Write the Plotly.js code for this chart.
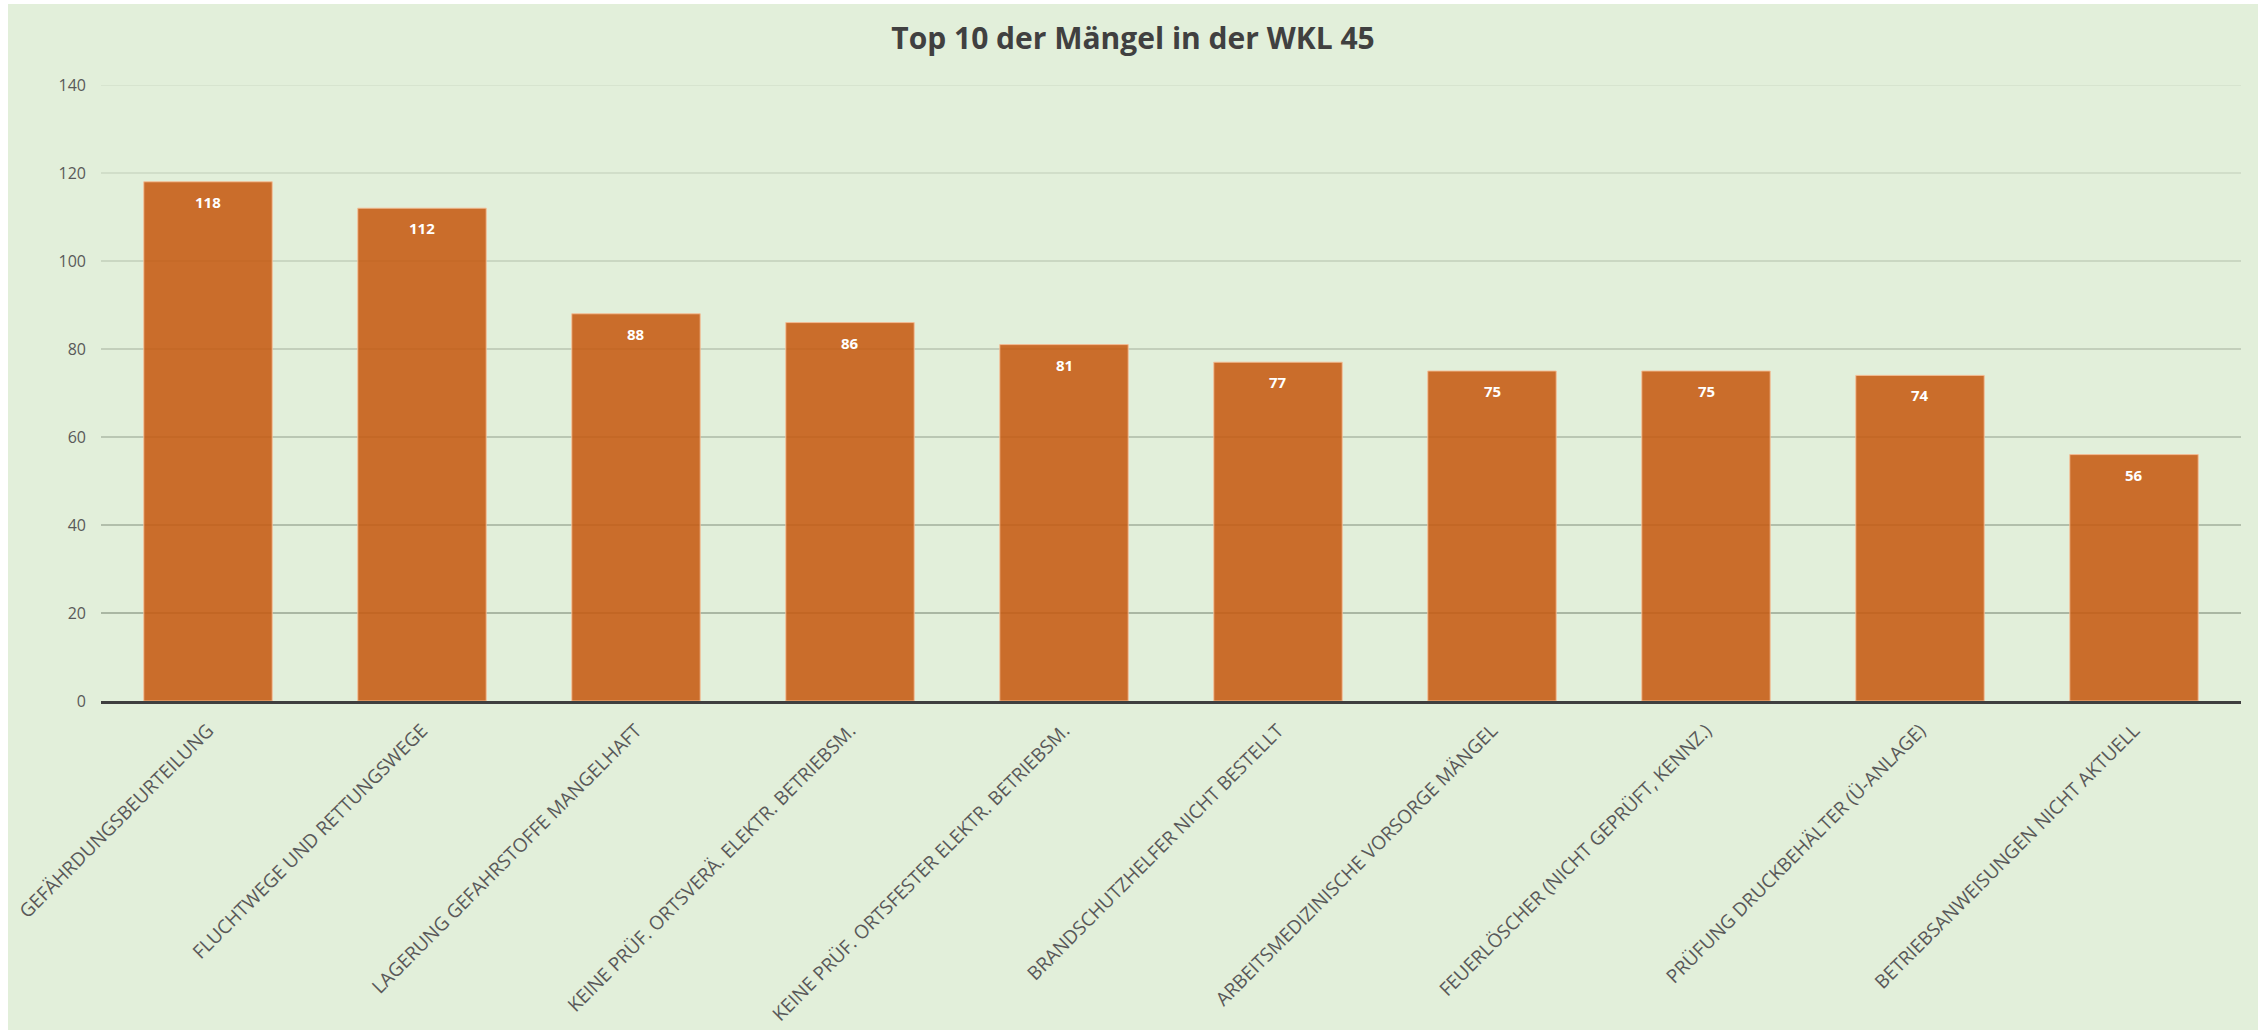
<!DOCTYPE html>
<html>
<head>
<meta charset="utf-8">
<script src="https://cdn.plot.ly/plotly-3.0.1.min.js"></script>
<style>
  html, body { margin: 0; padding: 0; background: #ffffff; width: 2265px; height: 1030px; overflow: hidden; }
  #chart { position: absolute; left: 8px; top: 4px; width: 2250px; height: 1026px; }
</style>
</head>
<body>
<div id="chart"></div>
<script>
// ---- data ----
const categories = [
  "GEFÄHRDUNGSBEURTEILUNG",
  "FLUCHTWEGE UND RETTUNGSWEGE",
  "LAGERUNG GEFAHRSTOFFE MANGELHAFT",
  "KEINE PRÜF. ORTSVERÄ. ELEKTR. BETRIEBSM.",
  "KEINE PRÜF. ORTSFESTER ELEKTR. BETRIEBSM.",
  "BRANDSCHUTZHELFER NICHT BESTELLT",
  "ARBEITSMEDIZINISCHE VORSORGE MÄNGEL",
  "FEUERLÖSCHER (NICHT GEPRÜFT, KENNZ.)",
  "PRÜFUNG DRUCKBEHÄLTER (Ü-ANLAGE)",
  "BETRIEBSANWEISUNGEN NICHT AKTUELL"
];
const counts = [118, 112, 88, 86, 81, 77, 75, 75, 74, 56];
const yTicks = [0, 20, 40, 60, 80, 100, 120, 140];
const chartTitle = "Top 10 der Mängel in der WKL 45";

// ---- styles ----
const FONT = "'Open Sans', 'Noto Sans', sans-serif";
const gridColors = {20: "#97a591", 40: "#a2af9b", 60: "#adbaa6", 80: "#b8c5b0", 100: "#c2cfba", 120: "#cbd8c3", 140: "#d3e0cb"};

const trace = {
  type: "bar",
  x: categories,
  y: counts,
  marker: { color: "rgba(197,90,17,0.87)", line: { color: "rgba(246,190,150,0.9)", width: 1 } },
  hoverinfo: "x+y"
};

const annotations = categories.map((c, i) => ({
  x: c, y: counts[i], xref: "x", yref: "y",
  text: String(counts[i]), showarrow: false,
  yanchor: "middle", xanchor: "center", yshift: -20,
  font: { family: FONT, size: 15, color: "#ffffff", weight: 700 }
}));

const shapes = yTicks.filter(v => v > 0).map(v => ({
  type: "line", xref: "paper", x0: 0, x1: 1, yref: "y", y0: v, y1: v,
  layer: "below", line: { color: gridColors[v], width: 1.5 }
}));

const layout = {
  width: 2250, height: 1026,
  paper_bgcolor: "#e2efda", plot_bgcolor: "#e2efda",
  margin: { l: 93, r: 17, t: 81, b: 329, pad: 0 },
  title: {
    text: chartTitle, x: 0.5, xanchor: "center", xref: "container",
    y: 0.966, yanchor: "middle", yref: "container",
    font: { family: FONT, size: 30, color: "#404040", weight: 700 }
  },
  bargap: 0.4,
  showlegend: false,
  xaxis: {
    type: "category", tickangle: -45, automargin: false,
    showgrid: false, showline: true, linecolor: "#3f3f3f", linewidth: 3,
    ticks: "", ticklabelstandoff: 8,
    tickfont: { family: FONT, size: 19, color: "#595959" }
  },
  yaxis: {
    range: [0, 140], tickvals: yTicks, ticktext: yTicks.map(String),
    showgrid: false, zeroline: false, showline: false, automargin: false,
    ticks: "", ticklabelstandoff: 14,
    tickfont: { family: FONT, size: 16, color: "#595959" }
  },
  shapes: shapes,
  annotations: annotations
};

Plotly.newPlot("chart", [trace], layout, { displayModeBar: false, responsive: false });
</script>
</body>
</html>
